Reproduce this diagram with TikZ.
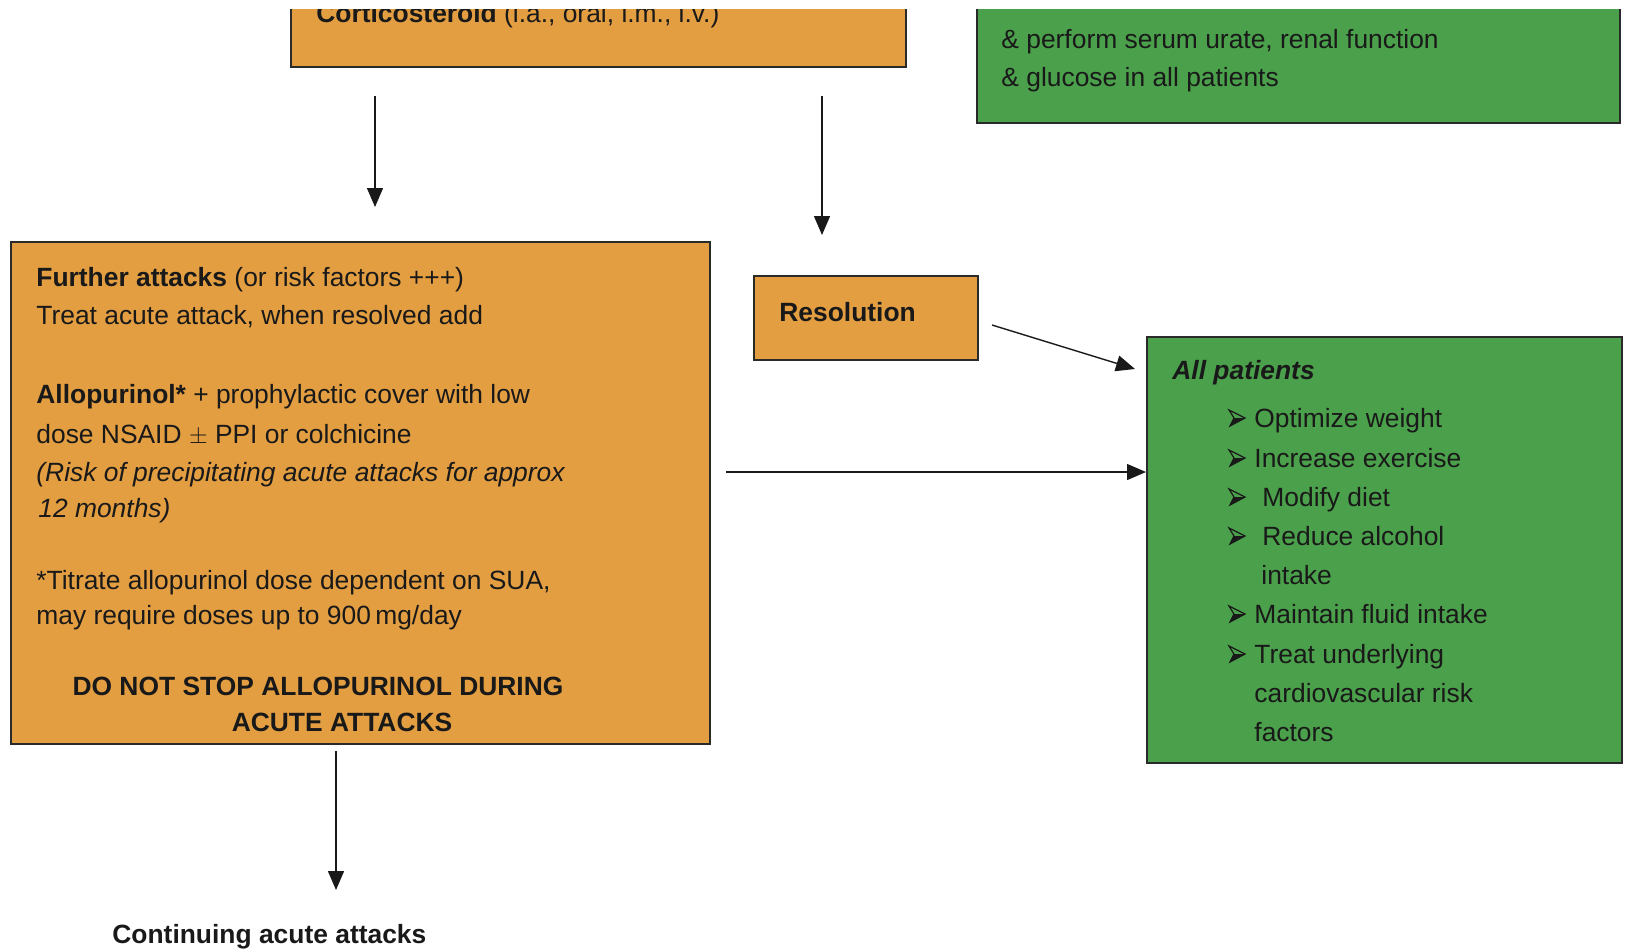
\documentclass[tikz,border=0pt]{standalone}
\usepackage{fontspec}
\setmainfont{Liberation Sans}
\usetikzlibrary{arrows.meta}
\definecolor{orangebox}{HTML}{E39E42}
\definecolor{greenbox}{HTML}{4BA04B}
\definecolor{edgec}{HTML}{2A2A2A}
\tikzset{
  obox/.style={draw=edgec, line width=1pt, fill=orangebox, inner sep=0pt, outer sep=0pt, anchor=north west},
  gbox/.style={draw=edgec, line width=1pt, fill=greenbox, inner sep=0pt, outer sep=0pt, anchor=north west},
  txt/.style={anchor=base west, inner sep=0pt, font=\fontsize{13.2pt}{15pt}\selectfont, text=black!90},
  ctxt/.style={anchor=base, inner sep=0pt, font=\fontsize{13.2pt}{15pt}\selectfont, text=black!90},
  arr/.style={-{Triangle[length=9.5pt,width=8pt]}, line width=0.7pt, draw=black!90},
  bularr/.pic={
    \draw[line width=0.6pt, line join=miter, draw=black!90] (0,-16) -- (16,-8) -- (1,0) -- (5,-8) -- cycle;
    \fill[black!90] (5,-8) -- (16,-8) -- (1,0) -- cycle;
  },
}
\begin{document}
\begin{tikzpicture}[x=0.5pt,y=-0.5pt]
\useasboundingbox (0,0) rectangle (1626,950);
\begin{scope}
\clip (0,9) rectangle (1626,950);
% top orange box (cut off)
\node[obox, minimum width=307.5pt, minimum height=43.5pt] (cort) at (291,-20) {};
\node[txt] (corttxt) at (316,22) {\textbf{Corticosteroid} (i.a., oral, i.m., i.v.)};
% top green box (cut off)
\node[gbox, minimum width=321.5pt, minimum height=71.5pt] (screen) at (977,-20) {};
\node[txt] (s1) at (1001,48) {\& perform serum urate, renal function};
\node[txt] (s2) at (1001,86) {\& glucose in all patients};
\end{scope}

% big orange box
\node[obox, minimum width=349.5pt, minimum height=251pt] (further) at (11,242) {};
\node[txt] (f1) at (36,286) {\textbf{Further attacks} (or risk factors +++)};
\node[txt] (f2) at (36,324) {Treat acute attack, when resolved add};
\node[txt] (f3) at (36,403) {\textbf{Allopurinol*} + prophylactic cover with low};
\node[txt] (f4) at (36,443) {dose NSAID $\pm$ PPI or colchicine};
\node[txt] (f5) at (36,481) {\itshape (Risk of precipitating acute attacks for approx};
\node[txt] (f6) at (38,517) {\itshape 12 months)};
\node[txt] (f7) at (36,589) {*Titrate allopurinol dose dependent on SUA,};
\node[txt] (f8) at (36,624) {may require doses up to 900\,mg/day};
\node[ctxt] (f9) at (318,695) {\textbf{DO NOT STOP ALLOPURINOL DURING}};
\node[ctxt] (f10) at (342,731) {\textbf{ACUTE ATTACKS}};

% resolution box
\node[obox, minimum width=112pt, minimum height=42pt] (resol) at (754,276) {};
\node[txt] (resoltxt) at (779,321) {\textbf{Resolution}};

% green all patients box
\node[gbox, minimum width=237.5pt, minimum height=213pt] (allp) at (1147,337) {};
\node[txt] (a0) at (1172,379) {\textbf{\itshape All patients}};
\pic at (1229,426) {bularr};
\node[txt] (a1) at (1254,427) {Optimize weight};
\pic at (1229,466) {bularr};
\node[txt] (a2) at (1254,467) {Increase exercise};
\pic at (1229,505) {bularr};
\node[txt] (a3) at (1262,506) {Modify diet};
\pic at (1229,544) {bularr};
\node[txt] (a4) at (1262,545) {Reduce alcohol};
\node[txt] (a4b) at (1261,584) {intake};
\pic at (1229,622) {bularr};
\node[txt] (a5) at (1254,623) {Maintain fluid intake};
\pic at (1229,662) {bularr};
\node[txt] (a6) at (1254,663) {Treat underlying};
\node[txt] (a6b) at (1254,702) {cardiovascular risk};
\node[txt] (a6c) at (1254,741) {factors};

% continuing
\node[txt] (cont) at (112,943) {\textbf{Continuing acute attacks}};

% arrow endpoints
\coordinate (p1s) at (375,96);
\coordinate (p1e) at (375,207);
\coordinate (p2s) at (822,96);
\coordinate (p2e) at (822,235);
\coordinate (p3s) at (992,325);
\coordinate (p3e) at (1135,369);
\coordinate (p4s) at (726,472);
\coordinate (p4e) at (1146,472);
\coordinate (p5s) at (336,751);
\coordinate (p5e) at (336,890);

\draw[arr] (p1s) -- (p1e);
\draw[arr] (p2s) -- (p2e);
\draw[arr] (p3s) -- (p3e);
\draw[arr] (p4s) -- (p4e);
\draw[arr] (p5s) -- (p5e);
\end{tikzpicture}
\end{document}
